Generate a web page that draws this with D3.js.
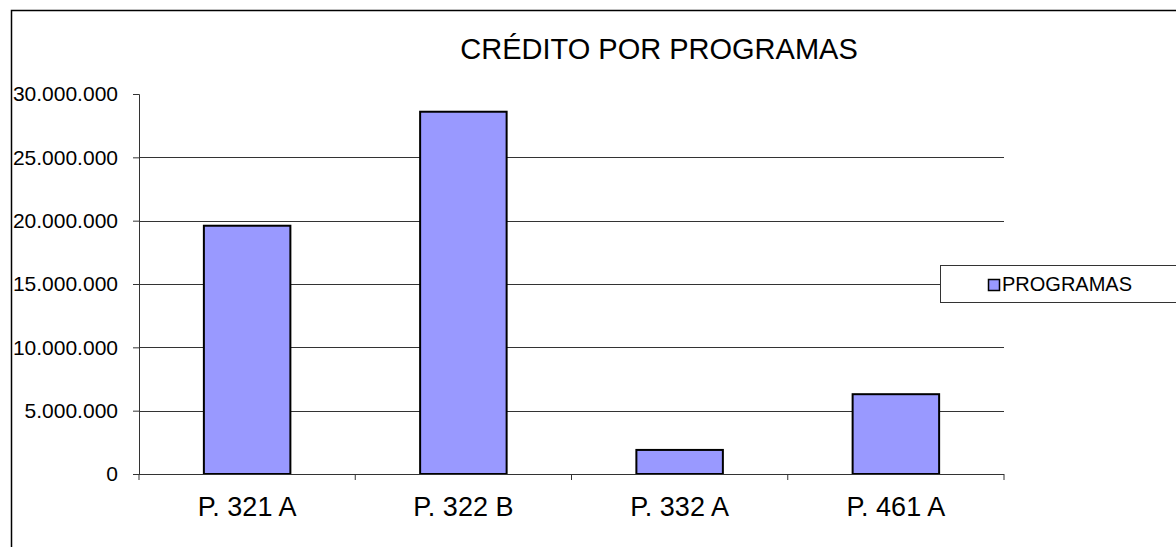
<!DOCTYPE html>
<html>
<head>
<meta charset="utf-8">
<script src="https://cdn.jsdelivr.net/npm/d3@7"></script>
<style>
  body { margin: 0; background: #fff; }
  text { font-family: "Liberation Sans", Arial, sans-serif; fill: #000; }
</style>
</head>
<body>
<script>
// datos
const programas = ["P. 321 A", "P. 322 B", "P. 332 A", "P. 461 A"];
const creditos = [19600000, 28600000, 1900000, 6300000];
const ticksY = [0, 5000000, 10000000, 15000000, 20000000, 25000000, 30000000];

const W = 1176, H = 547;
const margin = {top: 94, right: 172, bottom: 73, left: 139};
const width = W - margin.left - margin.right,
      height = H - margin.top - margin.bottom;

const svg = d3.select("body").append("svg")
  .attr("width", W).attr("height", H);

// marco exterior
svg.append("rect")
  .attr("x", 11.5).attr("y", 10.5)
  .attr("width", W + 10).attr("height", H + 10)
  .attr("fill", "none").attr("stroke", "#000").attr("stroke-width", 1.5);

svg.append("text")
  .attr("x", 659).attr("y", 59)
  .attr("text-anchor", "middle")
  .style("font-size", "29px")
  .text("CRÉDITO POR PROGRAMAS");

const g = svg.append("g")
  .attr("transform", "translate(" + margin.left + "," + margin.top + ")");

const x = d3.scaleBand().domain(programas).range([0, width]).paddingInner(0.6).paddingOuter(0.3);
const xb = d3.scaleBand().domain(programas).range([0, width]);
const y = d3.scaleLinear().domain([0, 30000000]).range([height, 0]);

const fmt = v => d3.format(",")(v).replace(/,/g, ".");

// lineas de division
g.selectAll(".grid")
  .data(ticksY.filter(d => d > 0 && d < 30000000))
  .enter().append("line")
  .attr("x1", 0).attr("x2", width)
  .attr("y1", d => Math.round(y(d)) + 0.5).attr("y2", d => Math.round(y(d)) + 0.5)
  .attr("stroke", "#333").attr("stroke-width", 1);

// barras
g.selectAll(".bar")
  .data(creditos)
  .enter().append("rect")
  .attr("x", (d, i) => x(programas[i]))
  .attr("y", d => y(d))
  .attr("width", x.bandwidth())
  .attr("height", d => height - y(d))
  .attr("fill", "#9999FF")
  .attr("stroke", "#000").attr("stroke-width", 2);

// eje y
const yAxis = g.append("g")
  .call(d3.axisLeft(y).tickValues(ticksY).tickFormat(fmt).tickSize(6).tickPadding(15));
yAxis.select(".domain").attr("stroke", "#333");
yAxis.selectAll(".tick line").attr("stroke", "#333");
yAxis.selectAll("text").style("font-size", "21px");

// eje x
const xAxis = g.append("g")
  .attr("transform", "translate(0," + height + ")");
xAxis.append("line")
  .attr("x1", 0).attr("x2", width).attr("y1", 0.5).attr("y2", 0.5)
  .attr("stroke", "#333");
xAxis.selectAll(".xt")
  .data(programas.concat(["fin"]))
  .enter().append("line")
  .attr("x1", (d, i) => i * xb.bandwidth()).attr("x2", (d, i) => i * xb.bandwidth())
  .attr("y1", 0).attr("y2", 6)
  .attr("stroke", "#333");
xAxis.selectAll(".xl")
  .data(programas)
  .enter().append("text")
  .attr("x", d => xb(d) + xb.bandwidth() / 2)
  .attr("y", 42)
  .attr("text-anchor", "middle")
  .style("font-size", "27px")
  .text(d => d);

// leyenda
const leg = svg.append("g");
leg.append("rect")
  .attr("x", 940.5).attr("y", 265.5).attr("width", 260).attr("height", 37)
  .attr("fill", "#fff").attr("stroke", "#333").attr("stroke-width", 1);
leg.append("rect")
  .attr("x", 988.5).attr("y", 279.5).attr("width", 11).attr("height", 11)
  .attr("fill", "#9999FF").attr("stroke", "#000").attr("stroke-width", 1.5);
leg.append("text")
  .attr("x", 1002).attr("y", 291)
  .style("font-size", "20px")
  .text("PROGRAMAS");
</script>
</body>
</html>
